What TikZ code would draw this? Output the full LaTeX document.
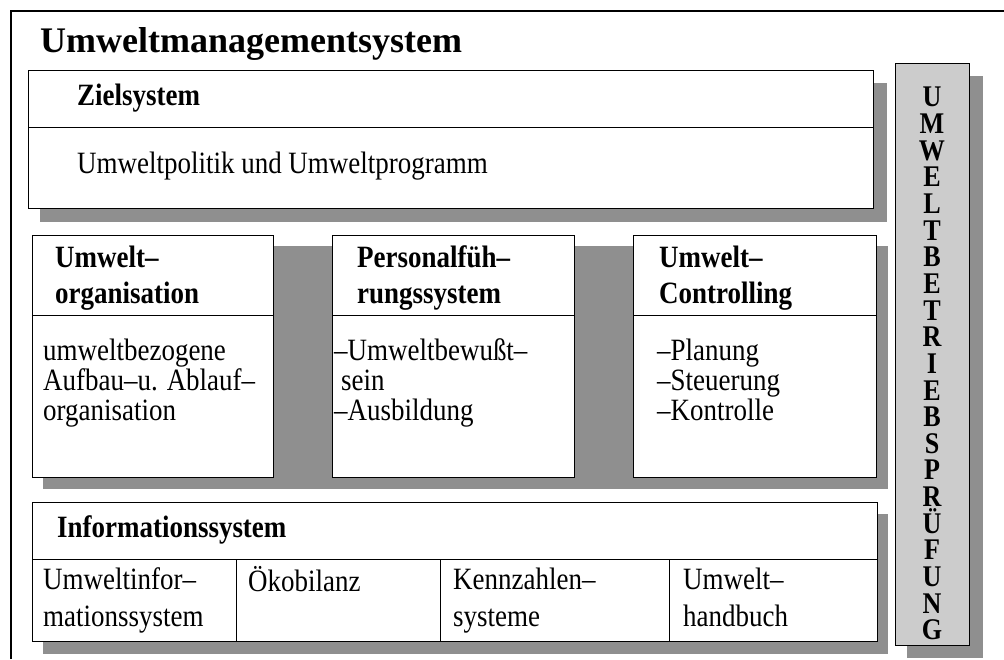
\documentclass[tikz,border=0pt]{standalone}
\usepackage{fontspec}
\setmainfont{Liberation Serif}
\newfontfamily\narrowserif[FakeStretch=0.87]{Liberation Serif}
\definecolor{shade}{RGB}{143,143,143}
\definecolor{pillar}{RGB}{204,204,204}
\begin{document}
\begin{tikzpicture}[x=1pt,y=-1pt,
  box/.style={draw=black,line width=1pt,fill=white},
  sh/.style={fill=shade},
  sep/.style={draw=black,line width=1pt},
  hd/.style={anchor=base west,inner sep=0pt,font=\narrowserif\fontsize{31}{35}\selectfont\bfseries},
  bd/.style={anchor=base west,inner sep=0pt,font=\narrowserif\fontsize{31}{30}\selectfont},
  vl/.style={anchor=north,inner sep=0pt,align=center,font=\narrowserif\fontsize{30}{26.65}\selectfont\bfseries}]
\useasboundingbox (0,0) rectangle (1004,659);
% outer frame
\draw[line width=1.3pt] (11,659) -- (11,11) -- (1004,11);
\node[anchor=base west,inner sep=0pt,font=\fontsize{36}{40}\selectfont\bfseries] (title) at (40,52) {Umweltmanagementsystem};

% Zielsystem
\fill[sh] (40,83) rectangle (887,222);
\draw[box] (28,70) rectangle (873,208);
\draw[sep] (28,127) -- (873,127);
\node[hd] (zs) at (77,105) {Zielsystem};
\node[bd] (zt) at (77,173) {Umweltpolitik und Umweltprogramm};

% middle row
\fill[sh] (43,246) rectangle (888,489);
\draw[box] (32,235) rectangle (273,477);
\draw[box] (332,235) rectangle (574,477);
\draw[box] (633,235) rectangle (876,477);
\draw[sep] (32,315) -- (273,315);
\draw[sep] (332,315) -- (574,315);
\draw[sep] (633,315) -- (876,315);

\node[hd] (h1a) at (55,267) {Umwelt–};
\node[hd] (h1b) at (55,303) {organisation};
\node[hd] (h2a) at (357,267) {Personalfüh–};
\node[hd] (h2b) at (357,303) {rungssystem};
\node[hd] (h3a) at (659,267) {Umwelt–};
\node[hd] (h3b) at (659,303) {Controlling};

\node[bd] (b1a) at (43,360) {umweltbezogene};
\node[bd] (b1b) at (43,390) {Aufbau–u. Ablauf–};
\node[bd] (b1c) at (43,420) {organisation};
\node[bd] (b2a) at (334,360) {–Umweltbewußt–};
\node[bd] (b2b) at (341,390) {sein};
\node[bd] (b2c) at (334,420) {–Ausbildung};
\node[bd] (b3a) at (657,360) {–Planung};
\node[bd] (b3b) at (657,390) {–Steuerung};
\node[bd] (b3c) at (657,420) {–Kontrolle};

% Informationssystem
\fill[sh] (43,514) rectangle (888,654);
\draw[box] (32,502) rectangle (877,641);
\draw[sep] (32,559) -- (877,559);
\draw[sep] (236,559) -- (236,641);
\draw[sep] (440,559) -- (440,641);
\draw[sep] (669,559) -- (669,641);
\node[hd] (is) at (57,537) {Informationssystem};
\node[bd] (c1a) at (43,589) {Umweltinfor–};
\node[bd] (c1b) at (43,626) {mationssystem};
\node[bd] (c2) at (248,591) {Ökobilanz};
\node[bd] (c3a) at (453,589) {Kennzahlen–};
\node[bd] (c3b) at (453,626) {systeme};
\node[bd] (c4a) at (683,589) {Umwelt–};
\node[bd] (c4b) at (683,626) {handbuch};

% vertical pillar
\fill[sh] (907,76) rectangle (983,658);
\draw[line width=1pt,fill=pillar] (895,63) rectangle (969,645);
\node[vl] (audit) at (932,87) {U\\M\\W\\E\\L\\T\\B\\E\\T\\R\\I\\E\\B\\S\\P\\R\\Ü\\F\\U\\N\\G};
\end{tikzpicture}
\end{document}
